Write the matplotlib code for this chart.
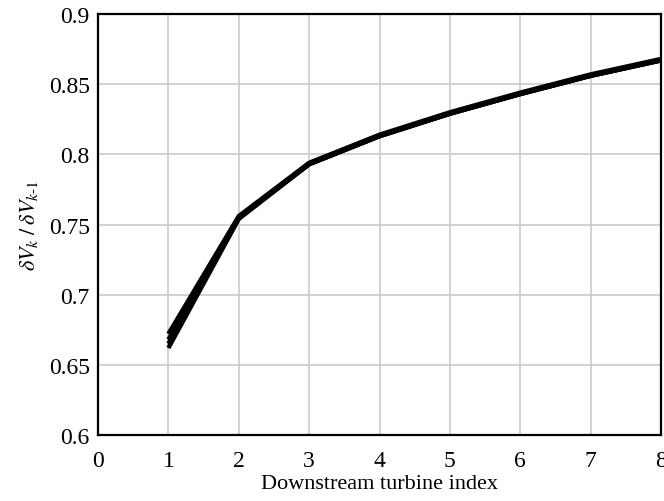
import matplotlib.pyplot as plt

plt.rcParams['font.family'] = 'serif'
plt.rcParams['font.serif'] = ['Liberation Serif', 'DejaVu Serif']
plt.rcParams['mathtext.fontset'] = 'stix'

turbine = [1, 2, 3, 4, 5, 6, 7, 8]

# several overlapping cases, they only differ at the first turbine
case_a = [0.662, 0.754, 0.793, 0.813, 0.829, 0.843, 0.856, 0.867]
case_b = [0.665, 0.755, 0.793, 0.813, 0.829, 0.843, 0.856, 0.867]
case_c = [0.668, 0.755, 0.793, 0.813, 0.829, 0.843, 0.856, 0.867]
case_d = [0.672, 0.756, 0.794, 0.814, 0.830, 0.844, 0.857, 0.868]

xticks = [0, 1, 2, 3, 4, 5, 6, 7, 8]
yticks = [0.6, 0.65, 0.7, 0.75, 0.8, 0.85, 0.9]
ytick_labels = ['0.6', '0.65', '0.7', '0.75', '0.8', '0.85', '0.9']

fig = plt.figure(figsize=(6.64, 5.02), dpi=100)
ax = fig.add_axes([0.1476, 0.1315, 0.848, 0.8385])

for ys in (case_a, case_b, case_c, case_d):
    ax.plot(turbine, ys, color='black', linewidth=3.2, solid_capstyle='butt')

ax.set_xlim(0, 8)
ax.set_ylim(0.6, 0.9)
ax.set_xticks(xticks)
ax.set_yticks(yticks)
ax.set_yticklabels(ytick_labels)
ax.tick_params(length=0, labelsize=17)
ax.tick_params(axis='x', pad=11)
ax.tick_params(axis='y', pad=6)
ax.grid(True, color='#cfcfcf', linewidth=1.3)
ax.set_axisbelow(True)
for s in ax.spines.values():
    s.set_linewidth(1.6)

ax.set_xlabel('Downstream turbine index', fontsize=16, labelpad=2)
ax.set_ylabel(r'$\delta V_k\;/\;\delta V_{k\text{-}1}$', fontsize=16, labelpad=6)

fig.savefig('out.png', dpi=100)
